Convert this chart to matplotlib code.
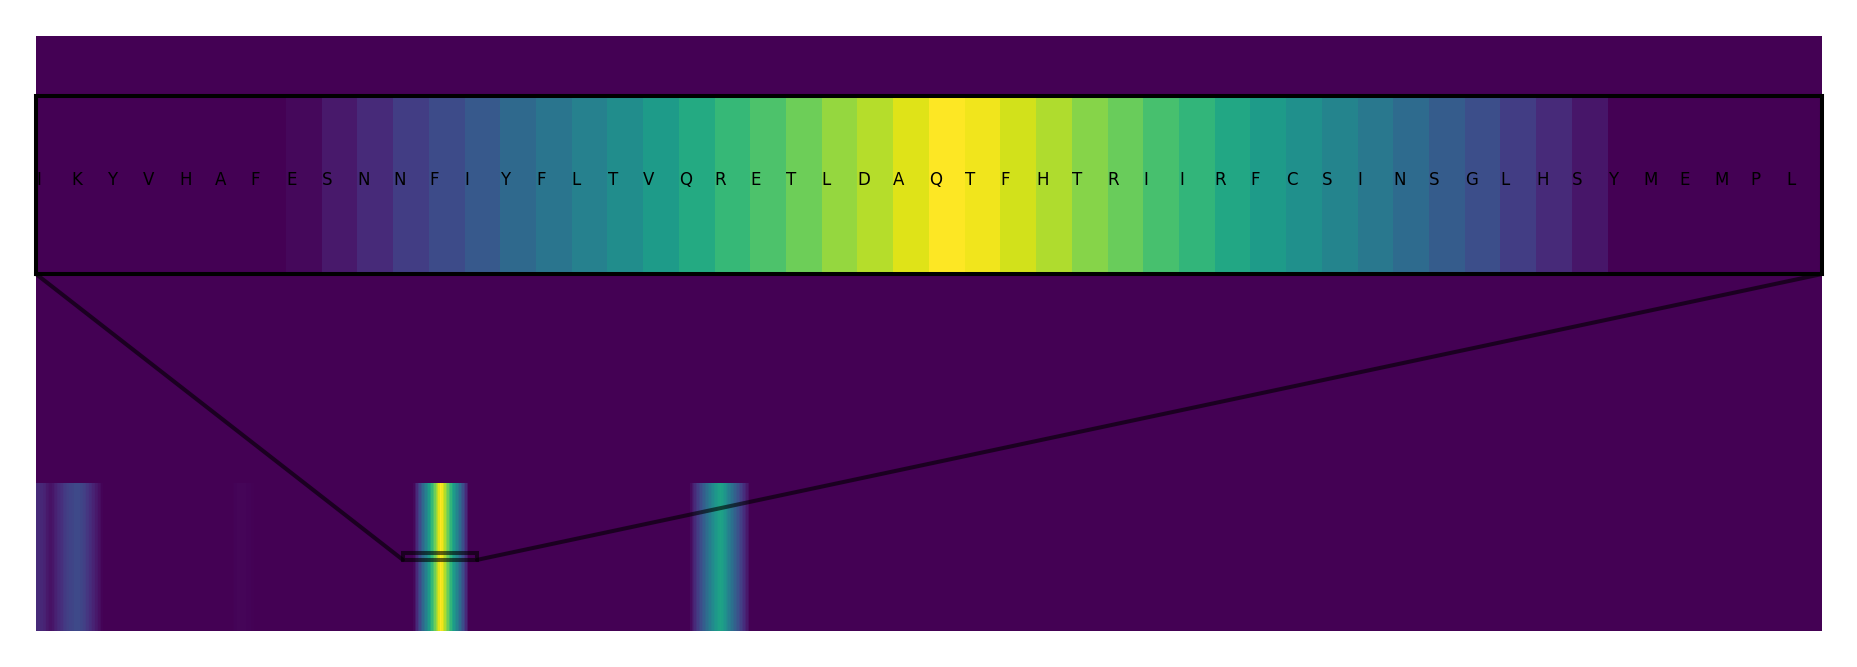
import numpy as np
import matplotlib
matplotlib.use("Agg")
from matplotlib import pyplot as plt
from matplotlib.patches import ConnectionPatch, Rectangle

# per-residue score track (zero outside the stretches listed below)
n_residues = 1207
n_rows = 4

# zoomed window: first residue index and its sequence
window_start = 248
window_seq = "IKYVHAFESNNFIYFLTVQRETLDAQTFHTRIIRFCSINSGLHSYMEMPL"

# nonzero stretches: (first residue index, scores)
band_a_start = 0
band_a = [0.12, 0.12, 0.12, 0.11, 0.11, 0.10, 0.09, 0.07, 0.06, 0.05,
          0.05, 0.06, 0.08, 0.09, 0.11, 0.12, 0.13, 0.14, 0.16, 0.17,
          0.18, 0.19, 0.20, 0.20, 0.21, 0.21, 0.22, 0.22, 0.22, 0.22,
          0.21, 0.20, 0.19, 0.18, 0.16, 0.15, 0.13, 0.12, 0.10, 0.09,
          0.07, 0.06, 0.04, 0.03, 0.01]

band_b_start = 133
band_b = [0.005, 0.01, 0.01, 0.012, 0.012, 0.012, 0.012, 0.012, 0.012,
          0.01, 0.01, 0.01, 0.005, 0.005]

band_c_start = 255
band_c = [0.02, 0.07, 0.12, 0.18, 0.23, 0.28, 0.34, 0.39, 0.44, 0.49,
          0.55, 0.61, 0.67, 0.72, 0.78, 0.84, 0.89, 0.95, 1.00, 0.98,
          0.93, 0.88, 0.82, 0.77, 0.71, 0.66, 0.60, 0.55, 0.50, 0.45,
          0.40, 0.35, 0.29, 0.24, 0.18, 0.12, 0.06]

band_d_start = 442
band_d = [0.03, 0.06, 0.09, 0.12, 0.15, 0.18, 0.21, 0.24, 0.27, 0.30,
          0.33, 0.36, 0.39, 0.42, 0.45, 0.48, 0.51, 0.53, 0.55, 0.57,
          0.58, 0.57, 0.55, 0.52, 0.49, 0.46, 0.43, 0.40, 0.37, 0.34,
          0.31, 0.28, 0.25, 0.22, 0.19, 0.16, 0.13, 0.10, 0.07, 0.04]

scores = np.zeros(n_residues)
for start, vals in [(band_a_start, band_a), (band_b_start, band_b),
                    (band_c_start, band_c), (band_d_start, band_d)]:
    scores[start:start + len(vals)] = vals

# track sits in the bottom row, the rows above stay empty
grid = np.zeros((n_rows, n_residues))
grid[0] = scores

W, H = 1857, 667
fig = plt.figure(figsize=(W / 100, H / 100), dpi=100)
ax = fig.add_axes([36 / W, 36 / H, 1786 / W, 595 / H])
ax.imshow(grid, aspect="auto", cmap="viridis", vmin=0, vmax=1,
          origin="lower", interpolation="nearest")
ax.axis("off")

x1, x2 = window_start - 0.5, window_start + len(window_seq) - 0.5
y1, y2 = -0.022, 0.022

axins = ax.inset_axes([0, 0.6, 1, 0.3])
axins.imshow(grid, aspect="auto", cmap="viridis", vmin=0, vmax=1,
             origin="lower", interpolation="nearest")
axins.set_xlim(x1, x2)
axins.set_ylim(y1, y2)
axins.set_xticks([])
axins.set_yticks([])
for sp in axins.spines.values():
    sp.set_linewidth(2.9)
    sp.set_color("black")

for i, aa in enumerate(window_seq):
    axins.text(window_start + i - 0.5, 0, aa, fontsize=12, color="black",
               ha="left", va="baseline", clip_on=True)

# zoom box on the main track and the two connector lines
ax.add_patch(Rectangle((x1, y1), x2 - x1, y2 - y1, fill=False,
                       edgecolor="black", linewidth=2.9, alpha=0.6))
for xa, xb in [(0, x1), (1, x2)]:
    con = ConnectionPatch(xyA=(xa, 0), coordsA=axins.transAxes,
                          xyB=(xb, y1), coordsB=ax.transData,
                          color="black", linewidth=2.9, alpha=0.6)
    ax.add_artist(con)

fig.savefig("out.png", dpi=100)
